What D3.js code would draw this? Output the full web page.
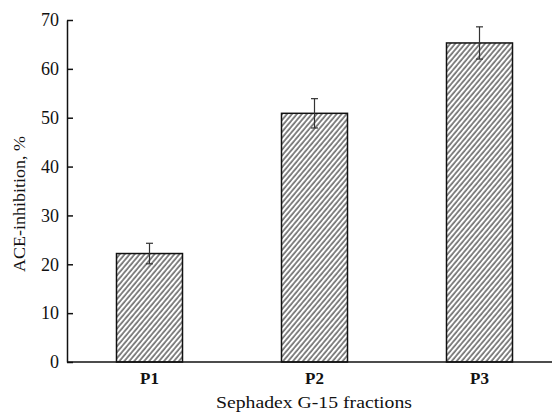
<!DOCTYPE html>
<html>
<head>
<meta charset="utf-8">
<script src="https://cdn.jsdelivr.net/npm/d3@7"></script>
<style>
  body { margin: 0; background: #fff; }
</style>
</head>
<body>
<svg id="chart"></svg>
<script>
// data
const fractions = ['P1', 'P2', 'P3'];
const inhibition = [22.2, 50.9, 65.3];
const errors = [2.1, 3.0, 3.3];
const yTicks = [0, 10, 20, 30, 40, 50, 60, 70];

const serif = "'Liberation Serif', 'Times New Roman', Times, serif";

const width = 552, height = 416;
const margin = {top: 20, right: 0, bottom: 54, left: 67};
const innerW = width - margin.left - margin.right;
const innerH = height - margin.top - margin.bottom;

const svg = d3.select('#chart')
    .attr('width', width)
    .attr('height', height)
    .style('font-family', serif);

// hatch fill for the bars
const defs = svg.append('defs');
defs.append('pattern')
    .attr('id', 'hatch')
    .attr('patternUnits', 'userSpaceOnUse')
    .attr('width', 3.8)
    .attr('height', 10)
    .attr('patternTransform', 'rotate(40)')
  .append('line')
    .attr('x1', 1).attr('y1', 0)
    .attr('x2', 1).attr('y2', 10)
    .attr('stroke', '#222')
    .attr('stroke-width', 1.1);

const chart = svg.append('g')
    .attr('transform', `translate(${margin.left},${margin.top})`);

const xScale = d3.scaleBand()
    .domain(fractions)
    .range([0, 495])
    .paddingInner(0.6)
    .paddingOuter(0.3);

const yScale = d3.scaleLinear()
    .domain([0, 70])
    .range([innerH, 0]);

// bars
chart.selectAll('.bar')
    .data(fractions)
  .join('rect')
    .attr('class', 'bar')
    .attr('x', d => xScale(d))
    .attr('width', xScale.bandwidth())
    .attr('y', (d, i) => yScale(inhibition[i]))
    .attr('height', (d, i) => innerH - yScale(inhibition[i]))
    .attr('fill', 'url(#hatch)')
    .attr('stroke', '#111')
    .attr('stroke-width', 1.5);

// error bars
const err = chart.selectAll('.err')
    .data(fractions)
  .join('g')
    .attr('class', 'err')
    .attr('transform', d => `translate(${xScale(d) + xScale.bandwidth() / 2},0)`)
    .attr('stroke', '#333')
    .attr('stroke-width', 1.2);

err.append('line')
    .attr('y1', (d, i) => yScale(inhibition[i] + errors[i]))
    .attr('y2', (d, i) => yScale(inhibition[i] - errors[i]));
err.append('line')
    .attr('x1', -3.5).attr('x2', 3.5)
    .attr('y1', (d, i) => yScale(inhibition[i] + errors[i]))
    .attr('y2', (d, i) => yScale(inhibition[i] + errors[i]));
err.append('line')
    .attr('x1', -3.5).attr('x2', 3.5)
    .attr('y1', (d, i) => yScale(inhibition[i] - errors[i]))
    .attr('y2', (d, i) => yScale(inhibition[i] - errors[i]));

// y axis with inward ticks
const yAxisG = chart.append('g')
    .call(d3.axisLeft(yScale)
      .tickValues(yTicks)
      .tickSizeInner(-6)
      .tickSizeOuter(0)
      .tickPadding(8))
    .attr('font-family', serif)
    .attr('font-size', 18);
yAxisG.select('.domain').attr('stroke', '#111').attr('stroke-width', 1.5);
yAxisG.selectAll('.tick line').attr('stroke', '#111').attr('stroke-width', 1.5);
yAxisG.selectAll('.tick text')
    .attr('x', -8)
    .attr('fill', '#111');

// x axis, no ticks
const xAxisG = chart.append('g')
    .attr('transform', `translate(0,${innerH})`)
    .call(d3.axisBottom(xScale).tickSize(0).tickPadding(10))
    .attr('font-family', serif)
    .attr('font-size', 17);
xAxisG.select('.domain')
    .attr('d', `M0,0H${innerW}`)
    .attr('stroke', '#111')
    .attr('stroke-width', 1.5);
xAxisG.selectAll('.tick text')
    .attr('fill', '#111')
    .style('font-weight', 'bold');

// axis titles
svg.append('text')
    .attr('x', 314)
    .attr('y', 408)
    .attr('text-anchor', 'middle')
    .attr('fill', '#111')
    .attr('textLength', 196)
    .attr('lengthAdjust', 'spacingAndGlyphs')
    .style('font-size', '17px')
    .text('Sephadex G-15 fractions');

svg.append('text')
    .attr('transform', 'translate(25,204) rotate(-90)')
    .attr('text-anchor', 'middle')
    .attr('fill', '#111')
    .attr('textLength', 136)
    .attr('lengthAdjust', 'spacingAndGlyphs')
    .style('font-size', '17px')
    .text('ACE-inhibition, %');
</script>
</body>
</html>
